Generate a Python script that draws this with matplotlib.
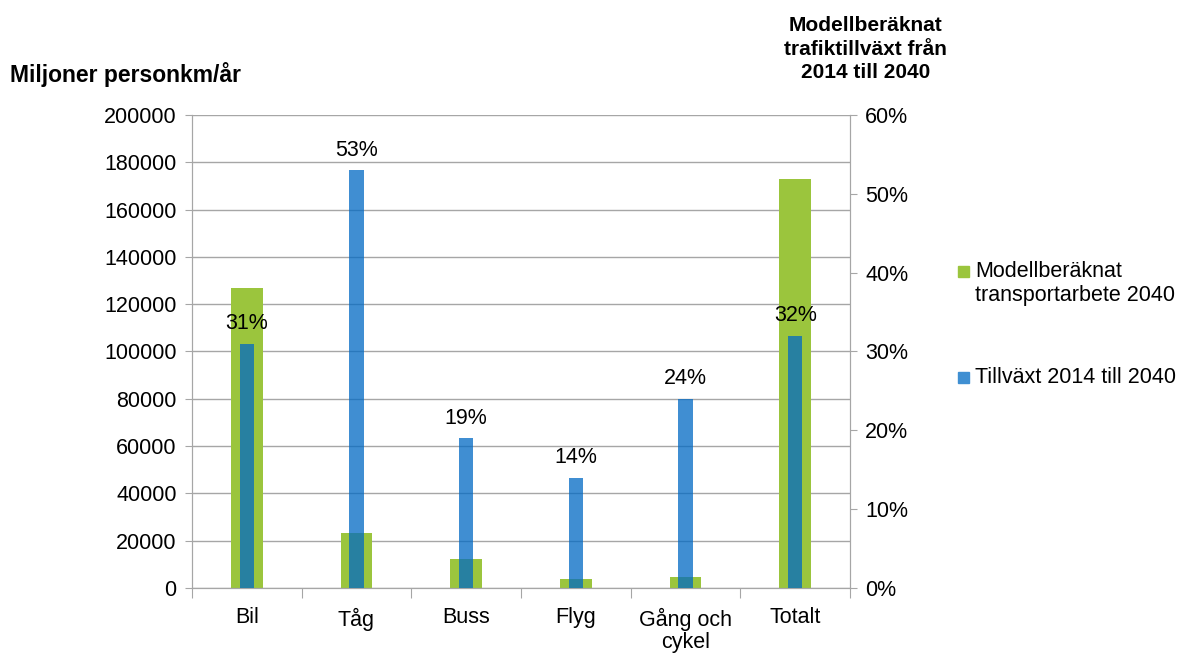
import matplotlib
matplotlib.use('Agg')
import matplotlib.pyplot as plt
import numpy as np
from matplotlib.patches import Rectangle

plt.rcParams['font.family'] = ['Liberation Sans', 'DejaVu Sans']

categories = ['Bil', 'Tåg', 'Buss', 'Flyg', 'Gång och\ncykel', 'Totalt']
transport_2040 = [127000, 23300, 12300, 3800, 4700, 173000]   # miljoner personkm/år
growth_pct = [31, 53, 19, 14, 24, 32]                          # tillväxt 2014-2040, %

green = '#9bc53d'
blue = (0.0, 0.41, 0.77)
blue_key = '#3f8fd2'
grid_grey = '#a6a6a6'
fs = 15.5

fig = plt.figure(figsize=(12.02, 6.56), dpi=100)
ax = fig.add_axes([0.1597, 0.1037, 0.5475, 0.721])
ax2 = ax.twinx()

x = np.arange(len(categories))
ax.bar(x, transport_2040, width=0.29, color=green, zorder=2)
ax2.bar(x, [g / 100 for g in growth_pct], width=0.13, color=blue, alpha=0.75, zorder=3)

for xi, g in zip(x, growth_pct):
    ax2.text(xi, g / 100 + 0.012, f'{g}%', ha='center', va='bottom', fontsize=fs)

ax.set_xlim(-0.5, len(categories) - 0.5)
ax.set_ylim(0, 200000)
ax.set_yticks(np.arange(0, 200001, 20000))
ax.yaxis.grid(True, color=grid_grey, linewidth=1, zorder=0)
ax.set_axisbelow(True)

ax2.set_ylim(0, 0.6)
ax2.set_yticks(np.arange(0, 0.61, 0.1))
ax2.set_yticklabels([f'{int(round(v * 100))}%' for v in np.arange(0, 0.61, 0.1)])

# category labels sit between the boundary ticks
ax.set_xticks(np.arange(-0.5, len(categories), 1.0))
ax.set_xticklabels([])
ax.set_xticks(x, minor=True)
ax.set_xticklabels(categories, minor=True, fontsize=fs, linespacing=1.1)
ax.tick_params(axis='x', which='minor', length=0, pad=14)
ax.tick_params(axis='x', which='major', length=7, color=grid_grey, direction='out')

ax.tick_params(axis='y', labelsize=fs, length=5, color=grid_grey, pad=6)
ax2.tick_params(axis='y', labelsize=fs, length=5, color=grid_grey, pad=6)

for a in (ax, ax2):
    a.spines['top'].set_visible(False)
    for s in ('left', 'right', 'bottom'):
        a.spines[s].set_color(grid_grey)

fig.text(0.008, 0.886, 'Miljoner personkm/år', fontsize=16.5, fontweight='bold',
         ha='left', va='center')
fig.text(0.72, 0.925, 'Modellberäknat\ntrafiktillväxt från\n2014 till 2040', fontsize=15,
         fontweight='bold', ha='center', va='center', linespacing=1.3)

# legend, key square beside the first line of each entry
W, H = 1202, 656
legend_items = [(green, 'Modellberäknat\ntransportarbete 2040', 272),
                (blue_key, 'Tillväxt 2014 till 2040', 378)]
for color, label, ypix in legend_items:
    fig.patches.append(Rectangle((958 / W, 1 - (ypix + 5) / H), 11 / W, 11 / H,
                                 transform=fig.transFigure, color=color))
    fig.text(975 / W, 1 - (ypix - 11) / H, label, fontsize=fs, ha='left', va='top',
             linespacing=1.2)

fig.savefig('out.png', dpi=100)
